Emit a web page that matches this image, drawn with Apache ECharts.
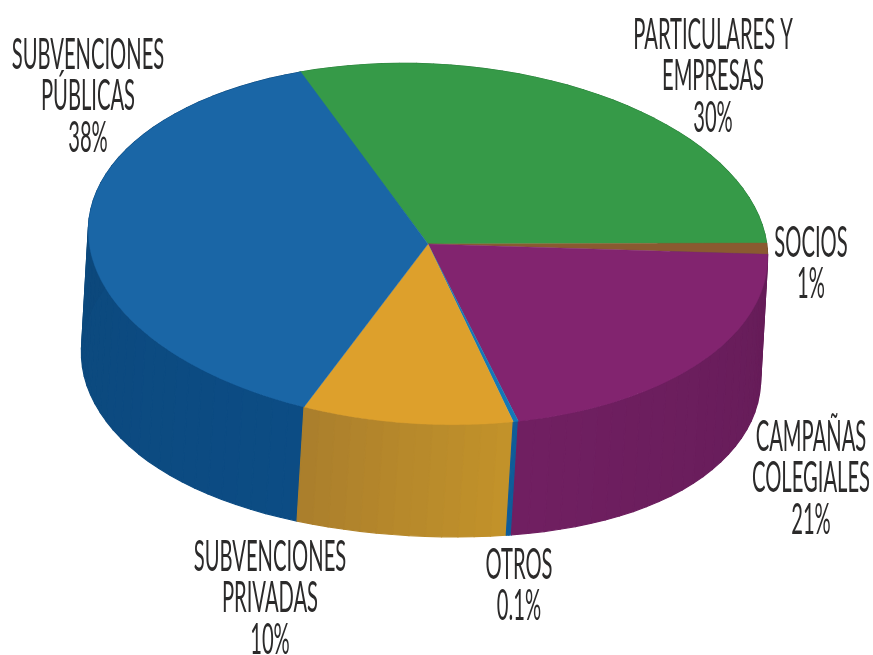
<!DOCTYPE html>
<html><head><meta charset="utf-8">
<style>html,body{margin:0;padding:0;background:#fff}#c{width:873px;height:655px}</style>
<script src="https://cdn.jsdelivr.net/npm/echarts@6/dist/echarts.min.js"></script>
</head><body><div id="c"></div>
<script>
const categories = ["Particulares y empresas","Socios","Campañas colegiales","Otros","Subvenciones privadas","Subvenciones públicas"];
const values = [30, 1, 21, 0.1, 10, 38];
const labelNames = [["PARTICULARES Y","EMPRESAS"],["SOCIOS"],["CAMPAÑAS","COLEGIALES"],["OTROS"],["SUBVENCIONES","PRIVADAS"],["SUBVENCIONES","PÚBLICAS"]];

const topColors = ["#369a48","#8a5a30","#82246f","#1378b8","#dda02c","#1a66a6"];
const sideStops = [["#2c7c3a","#2c7c3a"],["#6e4826","#6e4826"],["#651c58","#701f61"],["#0f5c99","#0f5c99"],["#c2922a","#ab7f2c"],["#0c4c84","#0c4677"]];
const labelAnchor = [[713,35],[811,243],[811,437],[519,565],[270,557],[88,55]];
const lineGap = 41.5;

const cx = 428, cy = 244, rx = 340, ry = 180, tilt = 3.1*Math.PI/180;
const depthX = -7, depthNear = 112, depthBulge = 10, startDeg = 114, minSliceDeg = 0.9;
const total = values.reduce((a,b)=>a+b,0);
const rawSpans = values.map(v=>v/total*360);
const extra = rawSpans.reduce((s,d)=>s+Math.max(0,minSliceDeg-d),0);
const spans = rawSpans.map(d=>d<minSliceDeg?minSliceDeg:d*(360-extra)/(360-rawSpans.filter(x=>x<minSliceDeg).reduce((a,b)=>a+b,0)));
const starts = spans.map((_,i)=>startDeg - spans.slice(0,i).reduce((a,b)=>a+b,0));

function rim(deg){
  const t = deg*Math.PI/180, a = rx*Math.cos(t), b = -ry*Math.sin(t);
  return [cx + a*Math.cos(tilt) - b*Math.sin(tilt), cy + a*Math.sin(tilt) + b*Math.cos(tilt)];
}
function lowRim(deg){
  const p = rim(deg), s = Math.abs(Math.sin(deg*Math.PI/180));
  return [p[0]+depthX, p[1]+depthNear+depthBulge*(1-Math.pow(s,4))];
}
function arcAngles(i,perDeg){
  const n = Math.max(2, Math.ceil(spans[i]*perDeg)), out = [];
  for(let k=0;k<=n;k++) out.push(starts[i]-spans[i]*k/n);
  return out;
}
const sideOrder = [0,1,5,4,3,2];
function renderSide(params){
  const i = sideOrder[params.dataIndex], ang = arcAngles(i,0.34), s = sideStops[i], kids = [];
  for(let k=0;k<ang.length-1;k++){
    const col = echarts.color.lerp(k/(ang.length-2||1),[s[0],s[1]]);
    kids.push({type:'polygon',shape:{points:[rim(ang[k]),rim(ang[k+1]),lowRim(ang[k+1]),lowRim(ang[k])]},
      style:{fill:col,stroke:col,lineWidth:1.2,lineJoin:'round'}});
  }
  return {type:'group',children:kids};
}
function renderTop(params){
  const i = params.dataIndex, c = topColors[i];
  return {type:'polygon',shape:{points:[[cx,cy]].concat(arcAngles(i,2).map(rim))},style:{fill:c,stroke:c,lineWidth:0.4}};
}
function renderLabel(params){
  const i = params.dataIndex, lines = labelNames[i].concat([values[i]+'%']), a = labelAnchor[i];
  return {type:'group',children:lines.map((txt,k)=>({
    type:'text',x:a[0],y:a[1]+k*lineGap,scaleX:0.48,scaleY:1,
    style:{text:txt,x:0,y:0,fill:'#2b2a2a',font:'400 42px Lato',textAlign:'center',textVerticalAlign:'middle'}
  }))};
}
const chart = echarts.init(document.getElementById('c'),null,{renderer:'canvas'});
chart.setOption({
  animation:false,
  backgroundColor:'#ffffff',
  series:[
    {type:'custom',coordinateSystem:'none',z:1,silent:true,data:sideOrder.map(i=>values[i]),renderItem:renderSide},
    {type:'custom',coordinateSystem:'none',z:2,silent:true,data:values,renderItem:renderTop},
    {type:'custom',coordinateSystem:'none',z:3,silent:true,name:categories.join(', '),data:values,renderItem:renderLabel}
  ]
});
</script></body></html>
